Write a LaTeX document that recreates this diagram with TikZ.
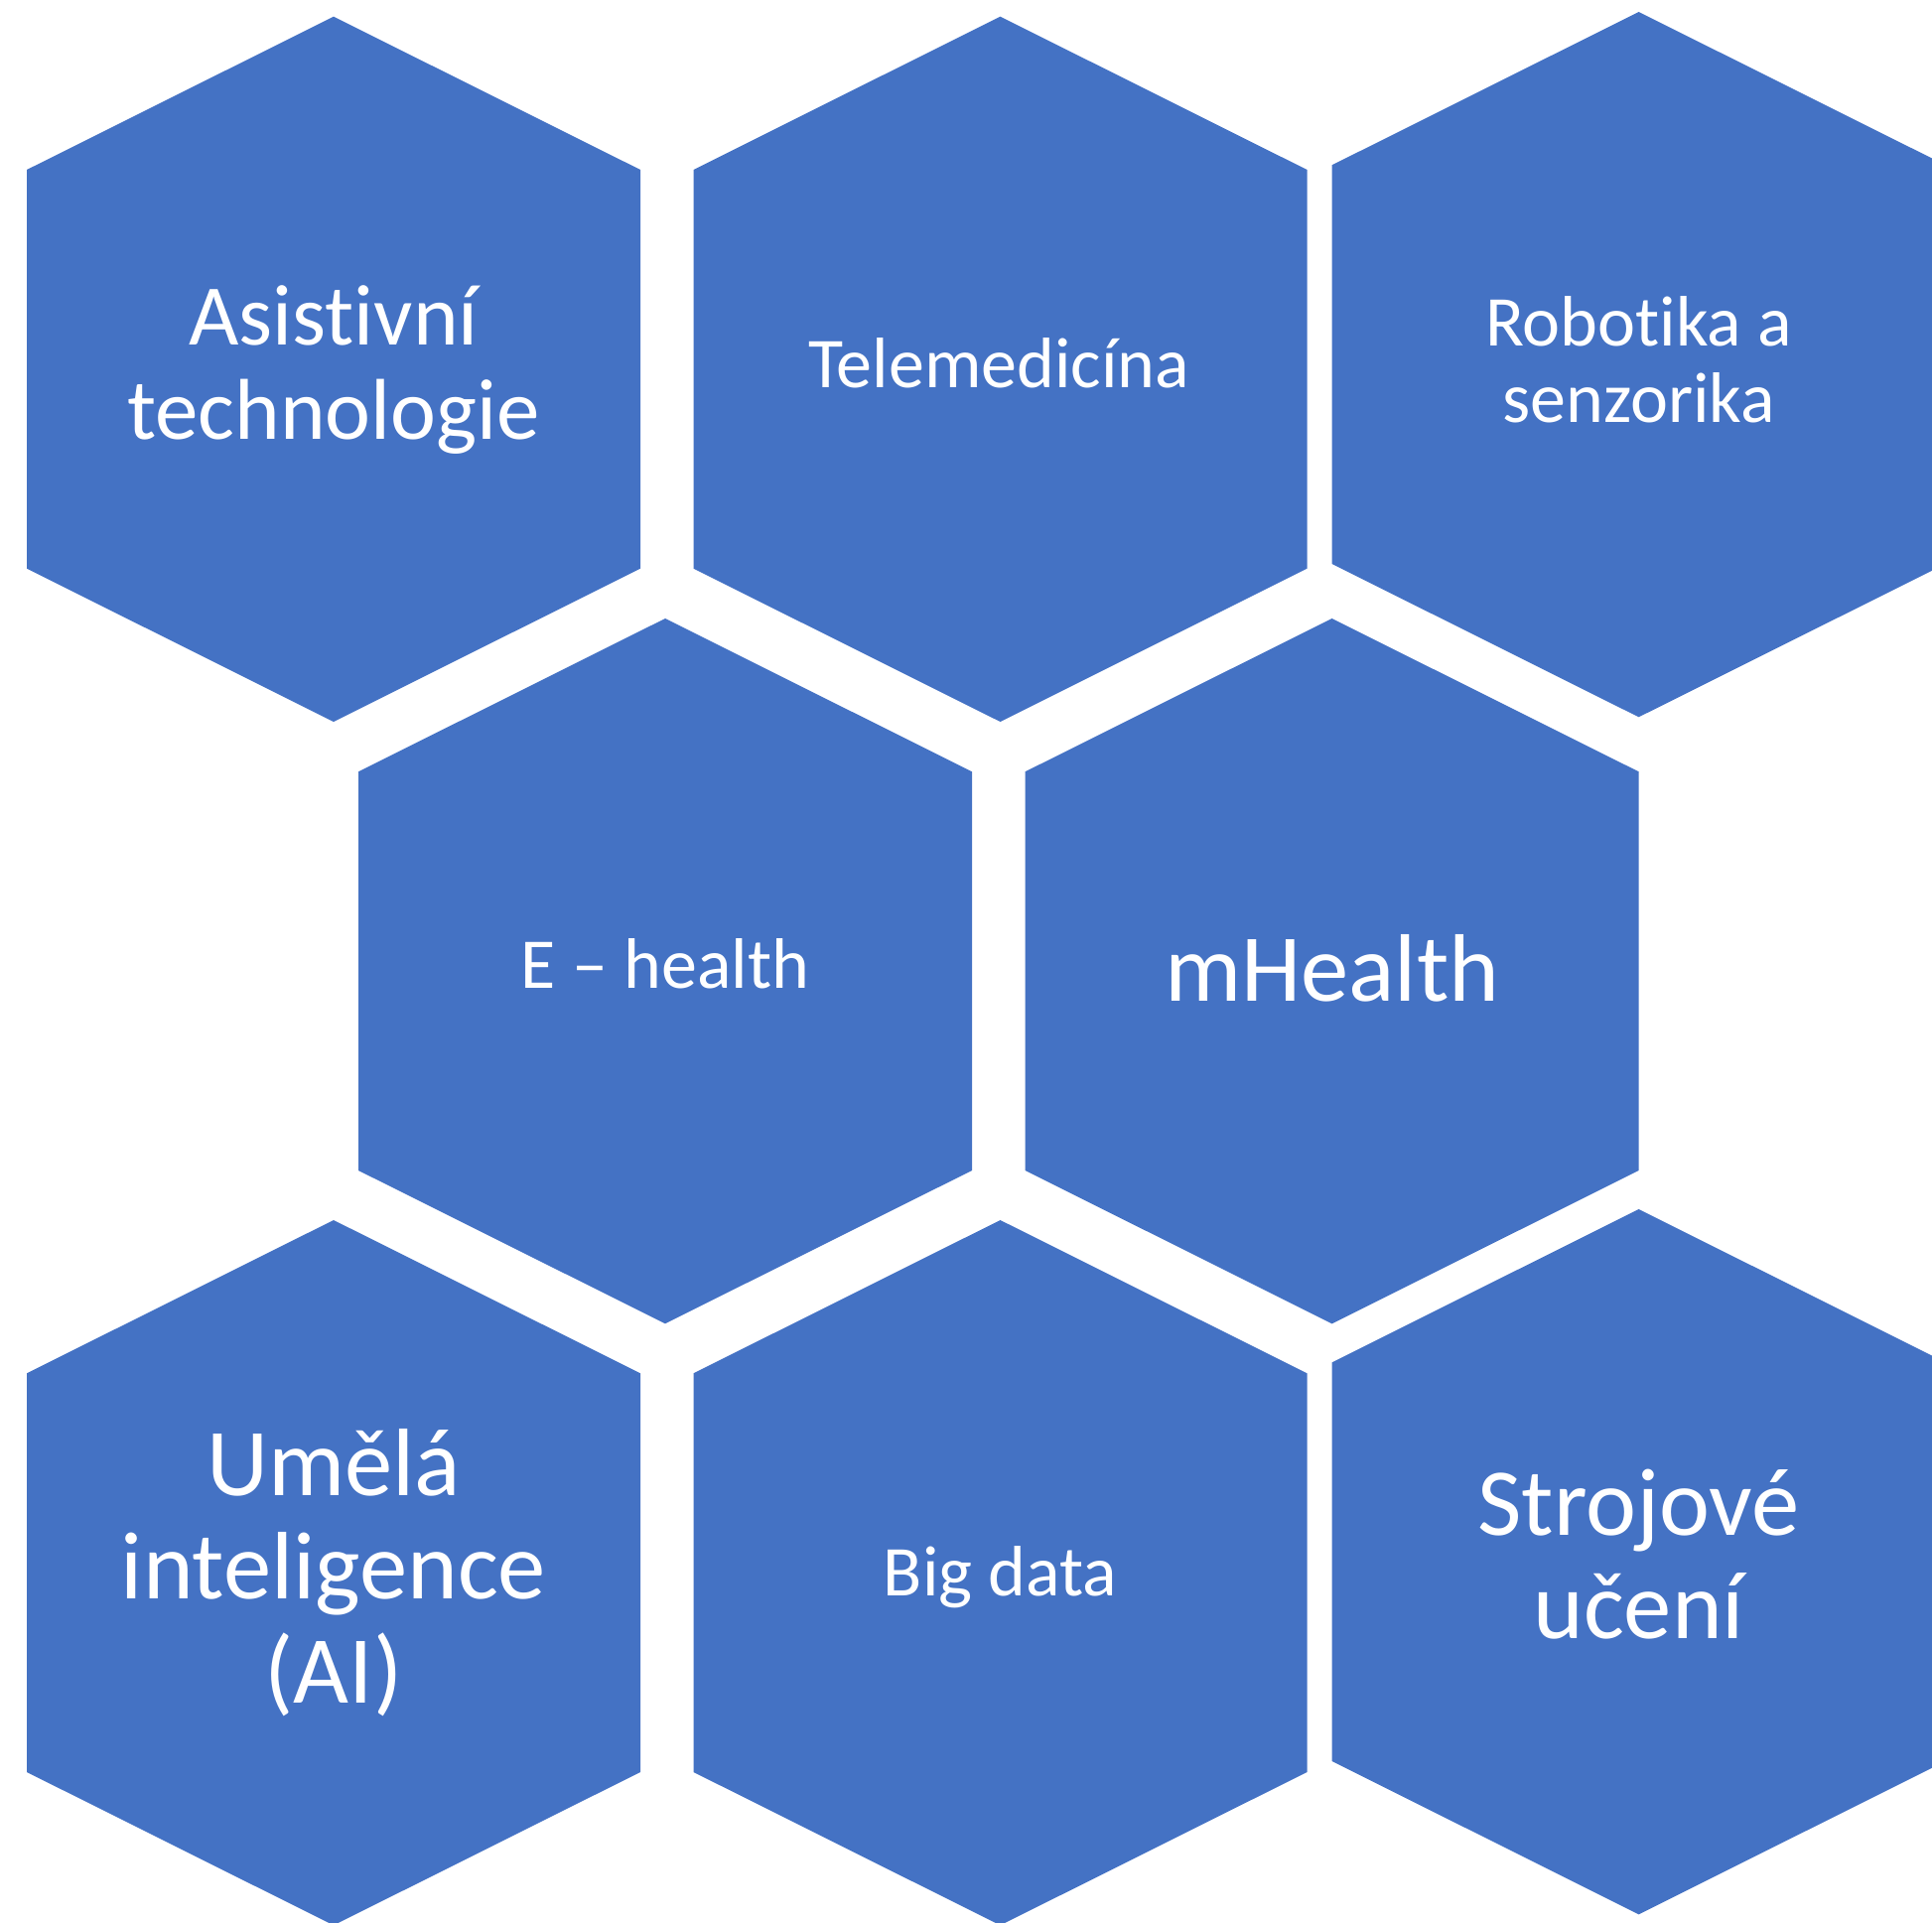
\documentclass[tikz,border=0pt]{standalone}
\usepackage{fontspec}
\setmainfont{Carlito}[Ligatures=NoCommon]
\definecolor{hexblue}{HTML}{4472C4}
\tikzset{
  hexfill/.style={fill=hexblue, draw=none},
  lbl/.style={text=white, anchor=base, inner sep=0pt},
  fbig/.style={font=\fontsize{43.5}{47.5}\selectfont},
  fmid/.style={font=\fontsize{36}{40}\selectfont},
  fhuge/.style={font=\fontsize{48.3}{52}\selectfont},
}
\newcommand\hexshape[2]{\fill[hexfill] (#1,#2) -- ++(309,154.3) -- ++(0,401.7) -- ++(-309,154.3) -- ++(-309,-154.3) -- ++(0,-401.7) -- cycle;}
\begin{document}
\begin{tikzpicture}[x=0.5pt,y=-0.5pt]
\useasboundingbox (0,0) rectangle (1946,1936);
\clip (0,0) rectangle (1946,1936);
% hexagons
\hexshape{336}{16.7}
\hexshape{1007.5}{16.7}
\hexshape{1650.6}{12}
\hexshape{670}{623}
\hexshape{1341.6}{623}
\hexshape{336}{1229}
\hexshape{1007.5}{1229}
\hexshape{1650.6}{1218}
% labels
\node[lbl, fbig] (asist1) at (336,348) {Asistivní};
\node[lbl, fbig] (asist2) at (336,443) {technologie};
\node[lbl, fmid] (tele) at (1006,391) {Telemedicína};
\node[lbl, fmid] (robo1) at (1650.6,348.3) {Robotika a};
\node[lbl, fmid] (robo2) at (1650.6,425.7) {senzorika};
\node[lbl, fmid] (ehealth) at (670,995) {E – health};
\node[lbl, fhuge] (mhealth) at (1341.6,1008) {mHealth};
\node[lbl, fhuge] (ai1) at (336,1506.6) {Umělá};
\node[lbl, fhuge] (ai2) at (336,1610.8) {inteligence};
\node[lbl, fhuge] (ai3) at (336,1715) {(AI)};
\node[lbl, fmid] (big) at (1007.5,1607) {Big data};
\node[lbl, fhuge] (stroj1) at (1650.6,1546) {Strojové};
\node[lbl, fhuge] (stroj2) at (1650.6,1650.5) {učení};
\end{tikzpicture}
\end{document}
